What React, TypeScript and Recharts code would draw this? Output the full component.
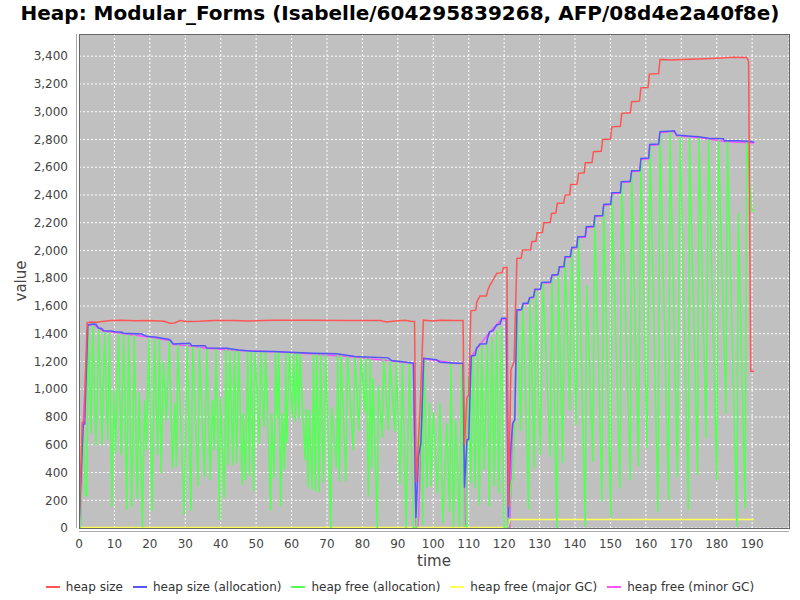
import React from 'react';
import { LineChart, Line, XAxis, YAxis, CartesianGrid } from 'recharts';

type Pt = [number, number];

const TITLE = 'Heap: Modular_Forms (Isabelle/604295839268, AFP/08d4e2a40f8e)';
const X_LABEL = 'time';
const Y_LABEL = 'value';

const xTicks = [0, 10, 20, 30, 40, 50, 60, 70, 80, 90, 100, 110, 120, 130, 140, 150, 160, 170, 180, 190];
const yTicks = [0, 200, 400, 600, 800, 1000, 1200, 1400, 1600, 1800, 2000, 2200, 2400, 2600, 2800, 3000, 3200, 3400];

const heapSize: Pt[] = [
  [0, 0], [0.9, 760], [1.4, 770], [2.3, 1480], [3.5, 1485], [5, 1482], [7, 1490], [9, 1495], [12, 1497],
  [16, 1493], [20, 1495], [24, 1490], [25.7, 1475], [27, 1478], [28.5, 1495], [30, 1488], [34, 1490],
  [38, 1495], [44, 1495], [48, 1492], [55, 1497], [65, 1497], [75, 1495], [85, 1496], [86.8, 1485],
  [88.5, 1490], [92, 1497], [93.5, 1490], [94.7, 1488], [95.2, 330], [96.3, 880], [97.2, 1498], [100, 1492],
  [102, 1497], [106, 1495], [108.4, 1495], [108.8, 600], [109.5, 940], [110, 960], [110.6, 1565], [112, 1570],
  [112.3, 1630], [113.2, 1672], [115, 1672], [115.4, 1715], [116, 1750], [116.6, 1775], [117.9, 1835],
  [119.4, 1840], [119.8, 1878], [120.8, 1878], [121.2, 150], [121.9, 1140], [122.8, 1200], [123.6, 1943],
  [124.8, 1945], [125.2, 2003], [127.5, 2005], [127.8, 2063], [129, 2068], [129.3, 2128], [130.8, 2130],
  [131.2, 2200], [133, 2202], [133.4, 2267], [134.6, 2270], [135, 2340], [136.8, 2342], [137.2, 2399],
  [138.5, 2402], [138.8, 2476], [140.6, 2478], [141, 2556], [142.6, 2560], [142.9, 2632], [144.8, 2634],
  [145.2, 2711], [147.4, 2715], [147.8, 2800], [150, 2803], [150.4, 2891], [152.8, 2895], [153.2, 2988],
  [155.6, 2992], [156, 3072], [158.2, 3076], [158.6, 3172], [160.6, 3175], [161, 3271], [163.6, 3275],
  [164, 3377], [167, 3372], [170, 3376], [175, 3380], [180, 3385], [185, 3392], [188.5, 3390], [189, 3360],
  [189.6, 1130], [190.5, 1130],
];

const heapSizeAlloc: Pt[] = [
  [0, 0], [1.2, 748], [1.6, 750], [2.5, 1463], [4.0, 1470], [4.8, 1468], [5.5, 1441], [6.4, 1438], [6.9, 1422],
  [9.2, 1420], [10.2, 1414], [12.2, 1410], [12.5, 1403], [17.7, 1398], [19.1, 1381], [21.9, 1374], [23.3, 1368],
  [25.2, 1360], [25.7, 1355], [26.6, 1326], [29.5, 1330], [31.3, 1331], [31.8, 1314], [35.6, 1314], [36, 1298],
  [41.7, 1295], [45, 1283], [49.2, 1274], [55, 1272], [59.5, 1267], [66.1, 1260], [72.7, 1255], [77.9, 1236],
  [87.3, 1226], [88.2, 1207], [92.5, 1195], [94.4, 1188], [95.1, 72], [95.8, 514], [96.5, 610], [97.3, 1223],
  [100.9, 1212], [101.9, 1195], [106.6, 1188], [108.4, 1187], [108.8, 290], [109.5, 634], [110, 640],
  [110.7, 1240], [111.8, 1245], [112.2, 1295], [113.2, 1326], [115, 1328], [115.3, 1367], [115.9, 1415],
  [116.8, 1420], [117.9, 1463], [118.9, 1470], [119.3, 1511], [120.6, 1511], [121.2, 75], [121.7, 513],
  [122.4, 754], [123, 780], [123.6, 1571], [124.9, 1575], [125.4, 1619], [126.7, 1620], [127.2, 1660],
  [128.3, 1665], [128.7, 1720], [130.2, 1722], [130.6, 1770], [133.1, 1772], [133.5, 1823], [135.2, 1826],
  [135.6, 1883], [136.9, 1885], [137.2, 1955], [138.7, 1957], [139.1, 2022], [140.5, 2025], [140.8, 2099],
  [142.9, 2101], [143.2, 2171], [145.3, 2174], [145.6, 2250], [147.8, 2252], [148.1, 2332], [150.1, 2335],
  [150.4, 2416], [152.8, 2418], [153.1, 2496], [155.6, 2498], [156, 2575], [158.3, 2577], [158.6, 2663],
  [160.8, 2666], [161.1, 2764], [163.6, 2767], [164, 2856], [166.5, 2860], [168, 2863], [168.7, 2832],
  [173.5, 2822], [174.8, 2820], [177.7, 2808], [181.8, 2806], [182.2, 2791], [186, 2790], [189.7, 2785],
  [190.6, 2779],
];

const heapFreeAlloc: Pt[] = [
  [0, 0], [0.3, 0], [1.2, 740], [1.5, 480], [1.8, 238], [2.2, 230], [2.6, 1460], [3.4, 682], [3.9, 1462],
  [4.8, 598], [5.6, 1435], [6.5, 598], [7.2, 1415], [8.1, 634], [8.6, 1412], [9.3, 154], [9.9, 994], [10.3, 538],
  [11.1, 1405], [11.9, 526], [12.6, 1400], [13.5, 130], [14.0, 1395], [14.9, 154], [15.6, 1393], [16.4, 214],
  [17.0, 982], [17.9, 5], [18.5, 922], [19.0, 560], [19.7, 1375], [20.6, 125], [21.3, 1370], [22.2, 526],
  [22.7, 1365], [23.2, 394], [23.8, 1198], [24.7, 777], [25.5, 1350], [26.4, 430], [27.1, 898], [27.5, 442],
  [27.9, 1325], [29.7, 94], [30.5, 1325], [31.6, 125], [32.1, 1312], [33.6, 300], [34.0, 1310], [35.4, 370],
  [36.1, 1300], [37.0, 346], [37.7, 922], [38.2, 560], [38.7, 1293], [39.7, 58], [39.9, 946], [41.0, 222],
  [41.5, 1290], [42.1, 454], [42.6, 1288], [43.4, 454], [43.9, 1285], [44.5, 466], [45.1, 1280], [46.1, 311],
  [46.4, 826], [47.0, 346], [47.6, 1275], [48.1, 375], [48.6, 1274], [49.3, 263], [49.7, 1272], [50.9, 605],
  [51.3, 1272], [52.2, 729], [52.7, 1271], [54.1, 124], [54.4, 826], [55.1, 358], [55.5, 1270], [56.0, 789],
  [56.4, 1268], [56.9, 155], [57.4, 826], [58.0, 420], [58.4, 1267], [58.6, 614], [59.4, 1266], [60.2, 793],
  [60.6, 1265], [61.1, 765], [61.5, 1264], [62.1, 789], [62.4, 1263], [63.8, 490], [64.2, 860], [64.7, 292],
  [65.0, 850], [65.8, 275], [66.2, 1260], [66.7, 263], [67.1, 1259], [67.8, 258], [68.2, 1258], [69.0, 327],
  [69.6, 1257], [71.1, 0], [71.3, 870], [72.2, 600], [72.7, 430], [73.0, 1255], [73.5, 339], [74.0, 1250],
  [75.3, 335], [75.8, 1245], [77.4, 562], [77.9, 1236], [79.0, 700], [79.6, 1234], [80.7, 837], [81.0, 1233],
  [81.7, 227], [82.2, 1232], [82.6, 430], [83.0, 1080], [84.2, 0], [84.5, 1030], [85.6, 650], [86.0, 1228],
  [87.3, 705], [87.8, 1215], [89.2, 693], [89.6, 1205], [90.6, 311], [91.3, 1195], [92.3, 0], [93.3, 1190],
  [94.4, 0], [95.2, 0], [96.5, 898], [97.0, 22], [97.4, 1215], [98.2, 286], [98.9, 898], [99.4, 300],
  [100.0, 838], [101.2, 250], [101.9, 898], [102.7, 34], [103.8, 754], [104.6, 118], [105.0, 1187], [105.7, 10],
  [106.3, 778], [107.4, 10], [108.0, 1180], [108.7, 20], [109.4, 10], [109.9, 1090], [110.6, 322], [111.2, 1235],
  [111.8, 286], [112.5, 1283], [113.0, 166], [113.7, 1318], [114.3, 418], [115.3, 1330], [115.8, 154],
  [116.6, 1378], [117.2, 300], [117.9, 1426], [118.5, 250], [119.3, 1450], [120.0, 0], [121.0, 0], [122.0, 330],
  [122.6, 358], [123.7, 1565], [124.6, 700], [125.3, 1612], [126.9, 134], [127.3, 1655], [128.5, 430],
  [129.0, 1715], [130.2, 526], [131.0, 1765], [133.0, 514], [133.5, 1818], [134.9, 0], [135.3, 1878],
  [136.5, 466], [137.2, 1950], [138.5, 850], [139.1, 2018], [140.3, 742], [141.0, 2095], [142.9, 10],
  [143.3, 1751], [145.0, 478], [145.6, 2245], [147.6, 190], [148.1, 2328], [150.1, 82], [150.4, 2412],
  [152.7, 286], [153.2, 2492], [155.6, 346], [156.0, 2570], [157.9, 442], [158.6, 2658], [160.3, 574],
  [161.2, 2760], [163.4, 118], [164.0, 2852], [166.4, 202], [166.8, 2858], [168.9, 370], [169.7, 2828],
  [172.0, 130], [172.3, 2816], [174.6, 382], [175.0, 2815], [177.0, 646], [177.7, 2805], [180.0, 346],
  [180.5, 2800], [182.6, 826], [183.0, 2788], [185.7, 10], [186.1, 2272], [188.0, 142], [188.5, 2784],
  [189.9, 2286], [190.5, 2286],
];

const heapFreeMajor: Pt[] = [
  [0, 4], [121.0, 4], [121.6, 62], [190.5, 62],
];

const heapFreeMinor: Pt[] = [
  [0, 0], [0.4, 0], [1.2, 745], [2.5, 1460], [4, 1467], [5.5, 1438], [6.9, 1420], [12.5, 1400], [19.1, 1378],
  [25.7, 1352], [26.6, 1323], [31.8, 1311], [36, 1295], [45, 1280], [59.5, 1264], [77.9, 1233], [88.2, 1204],
  [94.4, 1185], [95.1, 0], [95.6, 0], [95.9, 94], [96.5, 600], [97.3, 1220], [106.6, 1185], [108.4, 1184],
  [108.8, 0], [109.2, 0], [109.5, 630], [110.7, 1236], [113.2, 1322], [115.9, 1410], [119.3, 1505],
  [120.6, 1508], [121.2, 0], [121.6, 0], [122.4, 750], [123, 775], [123.6, 1566], [124.9, 1572], [125.4, 1614],
  [126.7, 1616], [127.2, 1655], [128.3, 1660], [128.7, 1714], [130.2, 1718], [130.6, 1765], [133.1, 1768],
  [133.5, 1818], [135.2, 1822], [135.6, 1878], [136.9, 1880], [137.2, 1950], [138.7, 1952], [139.1, 2016],
  [140.5, 2020], [140.8, 2094], [142.9, 2096], [143.2, 2166], [145.3, 2168], [145.6, 2245], [147.8, 2248],
  [148.1, 2327], [150.1, 2330], [150.4, 2411], [152.8, 2413], [153.1, 2491], [155.6, 2493], [156, 2570],
  [158.3, 2572], [158.6, 2658], [160.8, 2661], [161.1, 2759], [163.6, 2762], [164, 2851], [168, 2858],
  [168.7, 2827], [174.8, 2815], [177.7, 2803], [182.2, 2786], [190.6, 2774],
];

const SERIES_NAMES = ['heap size', 'heap size (allocation)', 'heap free (allocation)', 'heap free (major GC)', 'heap free (minor GC)'];
const SERIES_COLORS = ['#ff5555', '#5555ff', '#55ff55', '#ffff55', '#ff55ff'];

const toRows = (pts: Pt[]) => pts.map(([t, v]) => ({ t, v }));

const FONT = '"DejaVu Sans", "Liberation Sans", sans-serif';

export default function App() {
  const tickStyle = { fontSize: 12, fill: '#444444', fontFamily: FONT };
  return (
    <div style={{ position: 'absolute', left: 0, top: 0, width: 800, height: 600, background: '#ffffff', fontFamily: FONT }}>
      <div style={{ position: 'absolute', left: 0, top: 0, width: 800, textAlign: 'center', fontSize: 20, fontWeight: 'bold', lineHeight: '26px', color: '#000' }}>
        {TITLE}
      </div>
      <LineChart width={800} height={600} margin={{ top: 34, right: 11, bottom: 0, left: 0 }}>
        <CartesianGrid stroke="#ffffff" strokeDasharray="2 2" fill="#c0c0c0" />
        <XAxis
          type="number"
          dataKey="t"
          domain={[0, 200.4]}
          ticks={xTicks}
          allowDataOverflow
          height={72}
          tick={tickStyle}
          tickLine={false}
          axisLine={false}
          tickSize={4}
          tickMargin={7}
          interval={0}
        />
        <YAxis
          type="number"
          domain={[0, 3560]}
          ticks={yTicks}
          allowDataOverflow
          width={79}
          tick={tickStyle}
          tickLine={false}
          axisLine={false}
          tickSize={4}
          tickMargin={7}
          interval={0}
          tickFormatter={(v: number) => v.toLocaleString('en-US')}
        />
        <Line data={toRows(heapFreeMinor)} dataKey="v" name={SERIES_NAMES[4]} stroke={SERIES_COLORS[4]} strokeWidth={1.5} dot={false} type="linear" isAnimationActive={false} />
        <Line data={toRows(heapFreeMajor)} dataKey="v" name={SERIES_NAMES[3]} stroke={SERIES_COLORS[3]} strokeWidth={1.5} dot={false} type="linear" isAnimationActive={false} />
        <Line data={toRows(heapFreeAlloc)} dataKey="v" name={SERIES_NAMES[2]} stroke={SERIES_COLORS[2]} strokeWidth={1.5} dot={false} type="linear" isAnimationActive={false} />
        <Line data={toRows(heapSizeAlloc)} dataKey="v" name={SERIES_NAMES[1]} stroke={SERIES_COLORS[1]} strokeWidth={1.5} dot={false} type="linear" isAnimationActive={false} />
        <Line data={toRows(heapSize)} dataKey="v" name={SERIES_NAMES[0]} stroke={SERIES_COLORS[0]} strokeWidth={1.5} dot={false} type="linear" isAnimationActive={false} />
      </LineChart>
      {/* plot border and offset axis lines */}
      <div style={{ position: 'absolute', left: 79, top: 34, width: 709, height: 493, border: '1px solid #666666', pointerEvents: 'none' }} />
      <div style={{ position: 'absolute', left: 76, top: 34, width: 1, height: 494, background: '#aaaaaa' }} />
      <div style={{ position: 'absolute', left: 79, top: 531, width: 710, height: 1, background: '#aaaaaa' }} />
      <div style={{ position: 'absolute', left: 334, top: 552, width: 200, textAlign: 'center', fontSize: 15, lineHeight: '18px', color: '#444444' }}>
        {X_LABEL}
      </div>
      <div style={{ position: 'absolute', left: 21, top: 281, width: 0, height: 0 }}>
        <div style={{ position: 'absolute', left: -50, top: -9, width: 100, textAlign: 'center', fontSize: 15, lineHeight: '18px', color: '#444444', transform: 'rotate(-90deg)' }}>
          {Y_LABEL}
        </div>
      </div>
      <div style={{ position: 'absolute', left: 0, top: 579, width: 800, height: 16, display: 'flex', justifyContent: 'center', alignItems: 'center', fontSize: 12, color: '#333333', lineHeight: '16px' }}>
        {SERIES_NAMES.map((n, i) => (
          <span key={n} style={{ display: 'flex', alignItems: 'center', marginRight: i < SERIES_NAMES.length - 1 ? 10 : 0 }}>
            <span style={{ display: 'inline-block', width: 14, height: 1.5, background: SERIES_COLORS[i], marginRight: 6 }} />
            <span>{n}</span>
          </span>
        ))}
      </div>
    </div>
  );
}
